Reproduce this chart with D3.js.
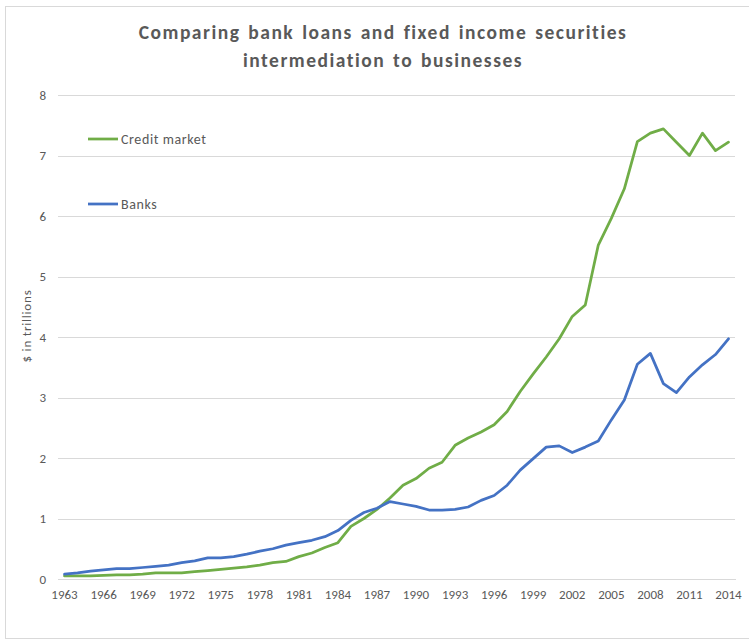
<!DOCTYPE html>
<html>
<head>
<meta charset="utf-8">
<script src="https://cdn.jsdelivr.net/npm/d3@7"></script>
<style>
body { margin: 0; background: #fff; }
text { font-family: Calibri, Carlito, Lato, "Liberation Sans", sans-serif; fill: #595959; }
</style>
</head>
<body>
<div id="chart"></div>
<script>
var years = d3.range(1963, 2015);

var creditMarket = [0.05, 0.05, 0.05, 0.06, 0.07, 0.07, 0.08, 0.10, 0.10, 0.10,
    0.12, 0.14, 0.16, 0.18, 0.20, 0.23, 0.27, 0.29, 0.37, 0.43,
    0.52, 0.60, 0.87, 1.00, 1.15, 1.34, 1.55, 1.66, 1.83, 1.93,
    2.21, 2.33, 2.43, 2.55, 2.77, 3.10, 3.39, 3.67, 3.97, 4.34,
    4.53, 5.52, 5.96, 6.45, 7.23, 7.37, 7.44, 7.22, 7.00, 7.37,
    7.08, 7.22];

var banks = [0.08, 0.10, 0.13, 0.15, 0.17, 0.17, 0.19, 0.21, 0.23, 0.27,
    0.30, 0.35, 0.35, 0.37, 0.41, 0.46, 0.50, 0.56, 0.60, 0.64,
    0.70, 0.80, 0.97, 1.10, 1.17, 1.28, 1.24, 1.20, 1.14, 1.14,
    1.15, 1.19, 1.30, 1.38, 1.55, 1.80, 1.99, 2.18, 2.20, 2.09,
    2.18, 2.28, 2.63, 2.96, 3.55, 3.73, 3.23, 3.08, 3.34, 3.54,
    3.71, 3.97];

var yTicks = [0, 1, 2, 3, 4, 5, 6, 7, 8];
var xTickYears = d3.range(1963, 2015, 3);

var series = [
    {name: "Credit market", values: creditMarket, color: "#70AD47", legendY: 139},
    {name: "Banks", values: banks, color: "#4472C4", legendY: 204}
];

var outerWidth = 749, outerHeight = 641;
var margin = {top: 95, right: 14, bottom: 62, left: 58},
    width = outerWidth - margin.left - margin.right,
    height = outerHeight - margin.top - margin.bottom;

var svg = d3.select("#chart").append("svg")
    .attr("width", outerWidth)
    .attr("height", outerHeight);

// chart frame
svg.append("rect")
    .attr("x", 5.5).attr("y", 6.5)
    .attr("width", 760).attr("height", 632)
    .attr("fill", "none")
    .attr("stroke", "#d9d9d9");

// title
var title = svg.append("text")
    .attr("x", 383)
    .attr("text-anchor", "middle")
    .style("font-size", "19.5px")
    .style("font-weight", "bold")
    .style("letter-spacing", "1.5px")
    .style("word-spacing", "2px");
title.append("tspan").attr("x", 383).attr("y", 39).text("Comparing bank loans and fixed income securities");
title.append("tspan").attr("x", 383).attr("y", 67).text("intermediation to businesses");

var g = svg.append("g")
    .attr("transform", "translate(" + margin.left + "," + margin.top + ")");

var x = d3.scaleBand()
    .domain(years)
    .range([0, width]);

var y = d3.scaleLinear()
    .domain([0, 8])
    .range([height, 0]);

var xPos = function(yr) { return x(yr) + x.bandwidth() / 2; };

// gridlines + y labels
var yAxis = d3.axisLeft(y)
    .tickValues(yTicks)
    .tickSize(-width)
    .tickPadding(10)
    .tickFormat(d3.format("d"));

var gY = g.append("g").call(yAxis);
gY.select(".domain").remove();
gY.selectAll(".tick line").attr("stroke", "#d9d9d9").attr("shape-rendering", "crispEdges");
gY.selectAll(".tick text")
    .style("font-size", "13px")
    .attr("fill", "#595959")
    .attr("x", -12);

// x labels
var xAxis = d3.axisBottom(x)
    .tickValues(xTickYears)
    .tickSize(0)
    .tickPadding(11);

var gX = g.append("g")
    .attr("transform", "translate(0," + height + ")")
    .call(xAxis);
gX.select(".domain").attr("stroke", "#d9d9d9").attr("shape-rendering", "crispEdges");
gX.selectAll(".tick text")
    .style("font-size", "13px")
    .attr("fill", "#595959");

// y axis title
svg.append("text")
    .attr("transform", "translate(31," + (margin.top + height / 2 - 11) + ") rotate(-90)")
    .attr("text-anchor", "middle")
    .style("font-size", "13px")
    .style("letter-spacing", "0.8px")
    .text("$ in trillions");

var line = d3.line()
    .x(function(d, i) { return xPos(years[i]); })
    .y(function(d) { return y(d); });

series.forEach(function(s) {
    g.append("path")
        .datum(s.values)
        .attr("fill", "none")
        .attr("stroke", s.color)
        .attr("stroke-width", 2.75)
        .attr("stroke-linejoin", "round")
        .attr("stroke-linecap", "round")
        .attr("d", line);
});

// legend
var legend = svg.append("g");
series.forEach(function(s) {
    legend.append("line")
        .attr("x1", 88).attr("x2", 118)
        .attr("y1", s.legendY).attr("y2", s.legendY)
        .attr("stroke", s.color)
        .attr("stroke-width", 2.75);
    legend.append("text")
        .attr("x", 121)
        .attr("y", s.legendY + 5)
        .style("font-size", "14px")
        .style("letter-spacing", "0.6px")
        .text(s.name);
});
</script>
</body>
</html>
